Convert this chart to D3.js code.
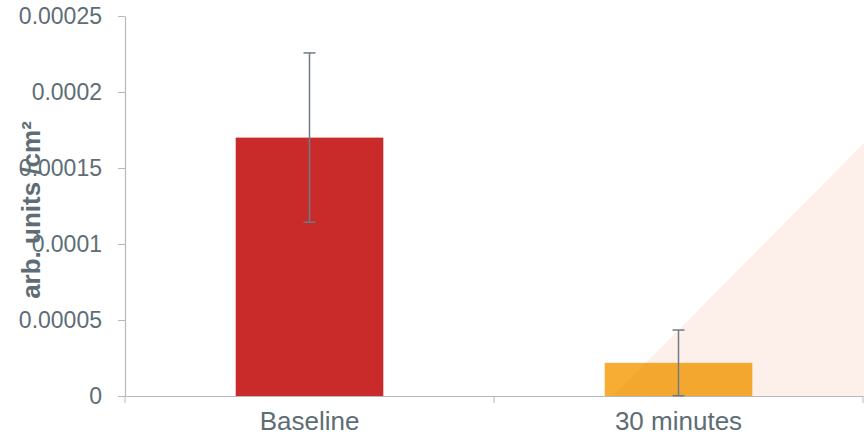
<!DOCTYPE html>
<html><head><meta charset="utf-8">
<script src="https://cdn.jsdelivr.net/npm/d3@7"></script>
<style>html,body{margin:0;padding:0;background:#fff;}svg{display:block;}</style>
</head><body>
<svg id="chart" width="864" height="445"></svg>
<script>
const categories = ["Baseline", "30 minutes"];
const values = [0.00017, 0.0000218];
const errors = [0.0000557, 0.0000216];
const colors = ["#c92b2b", "#f7ad33"];
const yTicks = [0, 0.00005, 0.0001, 0.00015, 0.0002, 0.00025];
const yTickLabels = ["0", "0.00005", "0.0001", "0.00015", "0.0002", "0.00025"];
const yTitle = "arb. units /cm\u00b2";

(function () {
const svg = d3.select("#chart");
const W = 864, H = 445;
const mLeft = 125, mRight = 863, mTop = 16, mBottom = 396;
const textColor = "#5e6d75";
const axisColor = "#b3b9bd";
const font = "'Liberation Sans', Arial, sans-serif";

const x = d3.scaleBand().domain(categories).range([mLeft, mRight]).paddingInner(0).paddingOuter(0);
const y = d3.scaleLinear().domain([0, 0.00025]).range([mBottom, mTop]);

const triPath = `M${W},${mBottom} L${W},143 L613,${mBottom} Z`;

// background triangle decoration
svg.append("path").attr("d", triPath).attr("fill", "#fdf0eb");

// bars
const bw = x.bandwidth() * 0.4;
svg.selectAll("rect.bar").data(categories).enter().append("rect")
  .attr("class", "bar")
  .attr("x", d => x(d) + x.bandwidth()/2 - bw/2)
  .attr("y", (d,i) => y(values[i]))
  .attr("width", bw)
  .attr("height", (d,i) => y(0) - y(values[i]))
  .attr("fill", (d,i) => colors[i]);

// tint of the triangle over the bars
const clip = svg.append("clipPath").attr("id", "barclip");
categories.forEach((c, i) => {
  clip.append("rect")
    .attr("x", x(c) + x.bandwidth()/2 - bw/2)
    .attr("y", y(values[i]))
    .attr("width", bw)
    .attr("height", y(0) - y(values[i]));
});
svg.append("path").attr("d", triPath).attr("clip-path", "url(#barclip)")
  .attr("fill", "#e07a10").attr("opacity", 0.10);

// y axis
const yAxis = d3.axisLeft(y).tickValues(yTicks).tickFormat((d,i) => yTickLabels[i]).tickSize(7).tickSizeOuter(0).tickPadding(16);
const gy = svg.append("g").attr("transform", `translate(${mLeft},0)`).call(yAxis);
gy.select(".domain").attr("stroke", axisColor).attr("stroke-width", 1.2);
gy.selectAll(".tick line").attr("stroke", axisColor);
gy.selectAll(".tick text").attr("fill", textColor).attr("font-family", font).attr("font-size", 23);

// x axis
const xAxis = d3.axisBottom(x).tickSize(0).tickPadding(16);
const gx = svg.append("g").attr("transform", `translate(0,${mBottom})`).call(xAxis);
gx.select(".domain").attr("stroke", axisColor).attr("stroke-width", 1.2);
gx.selectAll(".tick text").attr("fill", textColor).attr("font-family", font).attr("font-size", 26).attr("dy", "0.71em");
svg.selectAll("line.sep").data(categories).enter().append("line")
  .attr("class", "sep")
  .attr("x1", d => x(d) + x.bandwidth()).attr("x2", d => x(d) + x.bandwidth())
  .attr("y1", mBottom).attr("y2", mBottom + 7)
  .attr("stroke", axisColor);
svg.append("line").attr("x1", mLeft).attr("x2", mLeft).attr("y1", mBottom).attr("y2", mBottom + 7).attr("stroke", axisColor);

// error bars
const eg = svg.append("g");
categories.forEach((c, i) => {
  const cx = x(c) + x.bandwidth()/2;
  const hi = y(values[i] + errors[i]);
  const lo = y(Math.max(0, values[i] - errors[i]));
  eg.append("line").attr("x1", cx).attr("x2", cx).attr("y1", hi).attr("y2", lo).attr("stroke", "#6d7c84").attr("stroke-width", 1.5);
  [hi, lo].forEach(v => eg.append("line").attr("x1", cx-6).attr("x2", cx+6).attr("y1", v).attr("y2", v).attr("stroke", "#6d7c84").attr("stroke-width", 1.5));
});

// y title
svg.append("text")
  .attr("transform", "translate(40,210) rotate(-90)")
  .attr("text-anchor", "middle")
  .attr("fill", textColor).attr("font-family", font).attr("font-weight", "bold").attr("font-size", 26)
  .text(yTitle);
})();
</script>
</body></html>
